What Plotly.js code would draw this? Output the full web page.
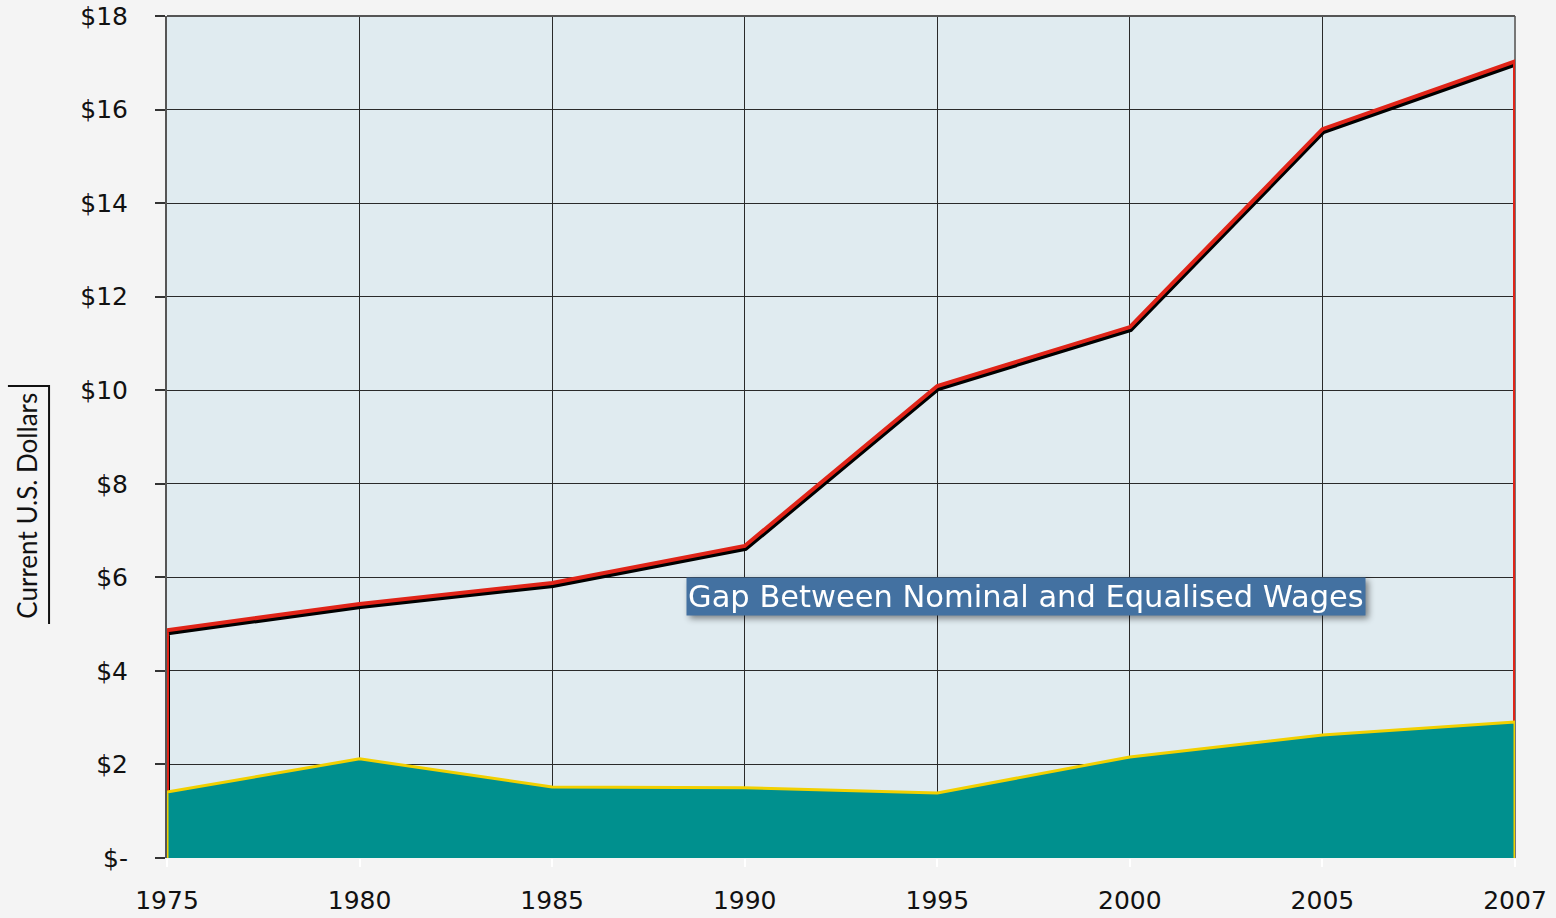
<!DOCTYPE html>
<html>
<head>
<meta charset="utf-8">
<script src="https://cdn.plot.ly/plotly-3.0.1.min.js"></script>
<style>
html,body{margin:0;padding:0;background:#f4f4f4;}
#chart{width:1556px;height:918px;}
</style>
</head>
<body>
<div id="chart"></div>
<script>
// Data
const years = ["1975","1980","1985","1990","1995","2000","2005","2007"];
const nominalWage = [4.87, 5.43, 5.88, 6.67, 10.09, 11.35, 15.58, 17.03];
const equalisedWage = [1.41, 2.12, 1.52, 1.50, 1.39, 2.16, 2.63, 2.91];
const yTickVals = [0, 2, 4, 6, 8, 10, 12, 14, 16, 18];
const yTickText = ["$-", "$2", "$4", "$6", "$8", "$10", "$12", "$14", "$16", "$18"];

const closedX = [years[0]].concat(years, [years[years.length - 1]]);
const nominalY = [0].concat(nominalWage, [0]);
const equalisedY = [0].concat(equalisedWage, [0]);

const FONT = "'DejaVu Sans', sans-serif";
const TITLEFONT = "Lato, 'Open Sans', sans-serif";

const traces = [
  {
    x: closedX, y: nominalY, type: "scatter", mode: "lines",
    line: {color: "#e02418", width: 4},
    hoverinfo: "skip", showlegend: false
  },
  {
    x: closedX, y: equalisedY, type: "scatter", mode: "lines",
    fill: "toself", fillcolor: "#00908e",
    line: {color: "#f2d000", width: 3},
    hoverinfo: "skip", showlegend: false
  }
];

const layout = {
  width: 1556, height: 918,
  paper_bgcolor: "#f4f4f4",
  plot_bgcolor: "#e0ebf0",
  margin: {l: 167, r: 41, t: 16, b: 60},
  font: {family: FONT, size: 25, color: "#111"},
  showlegend: false,
  xaxis: {
    type: "category",
    range: [0, years.length - 1],
    showgrid: true, gridcolor: "#2a2a2a", gridwidth: 1.2,
    showline: false, zeroline: false,
    ticks: "outside", ticklen: 8, tickcolor: "#ffffff", tickwidth: 2,
    tickfont: {family: FONT, size: 25, color: "#111"},
    ticklabelstandoff: 12,
    fixedrange: true
  },
  yaxis: {
    range: [0, 18],
    tickvals: yTickVals, ticktext: yTickText,
    showgrid: true, gridcolor: "#2a2a2a", gridwidth: 1.2,
    zeroline: false,
    showline: true, linecolor: "#555", linewidth: 2,
    ticks: "outside", ticklen: 10, tickcolor: "#333", tickwidth: 2,
    tickfont: {family: FONT, size: 25, color: "#111"},
    ticklabelstandoff: 22,
    fixedrange: true
  },
  shapes: [
    {type: "line", xref: "paper", yref: "paper", x0: 0, x1: 1, y0: 1, y1: 1,
     line: {color: "#555", width: 2}},
    {type: "line", xref: "paper", yref: "paper", x0: 1, x1: 1, y0: 0, y1: 1,
     line: {color: "#777", width: 2}, layer: "below"},
    {type: "path", xref: "paper", yref: "paper",
     path: "M -0.118 0.5606 L -0.0875 0.5606 L -0.0875 0.278",
     line: {color: "#111", width: 2}}
  ],
  annotations: [
    {xref: "paper", yref: "paper", x: -0.1035, y: 0.419,
     xanchor: "center", yanchor: "middle",
     text: "Current U.S. Dollars", textangle: -90, showarrow: false,
     font: {family: TITLEFONT, size: 26, color: "#111"}},
    {xref: "x", yref: "y", x: 4.46, y: 5.6,
     xanchor: "center", yanchor: "middle",
     text: "Gap Between Nominal and Equalised Wages", showarrow: false,
     bgcolor: "#4371a1", borderpad: 1,
     font: {family: FONT, size: 30.5, color: "#ffffff"}}
  ]
};

Plotly.newPlot("chart", traces, layout, {displayModeBar: false, staticPlot: true}).then(function(gd){
  const paths = gd.querySelectorAll(".scatterlayer .trace");
  if (paths[0]) {
    paths[0].querySelectorAll("path.js-line").forEach(function(p){
      p.style.filter = "drop-shadow(1px 3.5px 0px #000)";
    });
  }
  const ann = gd.querySelectorAll(".annotation")[1];
  if (ann) ann.style.filter = "drop-shadow(3px 3px 3px rgba(0,0,0,0.45))";
});
</script>
</body>
</html>
